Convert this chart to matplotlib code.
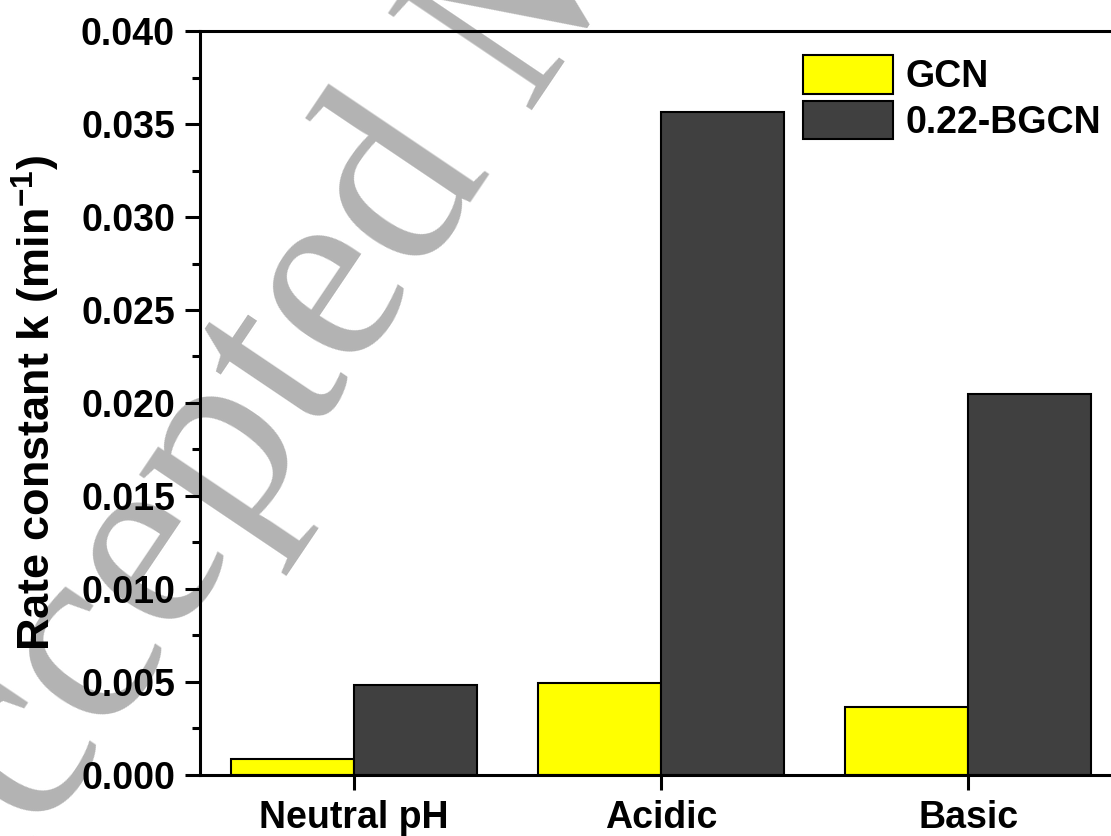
import numpy as np
import matplotlib
matplotlib.use("Agg")
import matplotlib.pyplot as plt
from matplotlib.ticker import MultipleLocator, FormatStrFormatter

# rate constants k (min^-1) under each pH condition
conditions = ["Neutral pH", "Acidic", "Basic"]
k_gcn = [0.00085, 0.00494, 0.00365]
k_bgcn = [0.00485, 0.03565, 0.02048]
series_names = ["GCN", "0.22-BGCN"]

plt.rcParams['font.family'] = 'Liberation Sans'
plt.rcParams['font.weight'] = 'bold'
plt.rcParams['mathtext.fontset'] = 'custom'
plt.rcParams['mathtext.bf'] = 'Liberation Sans:bold'
plt.rcParams['mathtext.rm'] = 'Liberation Sans:bold'
plt.rcParams['mathtext.default'] = 'bf'

fig = plt.figure(figsize=(11.11, 8.36), dpi=100)
ax = fig.add_axes([0.180, 0.0730, 0.8297, 0.8899])
ax.set_facecolor('none')

x = np.arange(len(conditions))
w = 0.4
ax.bar(x - w/2, k_gcn, w, color='#ffff00', edgecolor='black', linewidth=1.5, label=series_names[0])
ax.bar(x + w/2, k_bgcn, w, color='#404040', edgecolor='black', linewidth=1.5, label=series_names[1])

ax.set_xlim(-0.5, 2.5)
ax.set_ylim(0, 0.04)
ax.set_xticks(x)
ax.set_xticklabels(conditions)
ax.yaxis.set_major_locator(MultipleLocator(0.005))
ax.yaxis.set_minor_locator(MultipleLocator(0.0025))
ax.yaxis.set_major_formatter(FormatStrFormatter('%.3f'))

for s in ax.spines.values():
    s.set_linewidth(2.2)
ax.spines['right'].set_visible(False)

ax.tick_params(axis='both', which='major', direction='out', length=11, width=2.2,
               labelsize=27, pad=7)
ax.tick_params(axis='y', which='minor', direction='out', length=6, width=2.2)
ax.tick_params(axis='x', which='minor', bottom=False)

ax.set_ylabel(r"Rate constant k (min$^{-1}$)", fontsize=32.5, fontweight='bold')
ax.yaxis.set_label_coords(-0.150, 0.5)

ax.legend(loc='upper left', bbox_to_anchor=(0.7228, 0.934), bbox_transform=fig.transFigure,
          frameon=False, fontsize=27, borderpad=0, borderaxespad=0,
          handlelength=2.4, handleheight=1.2, handletextpad=0.33, labelspacing=0.15)

# diagonal journal stamp behind the plot
fig.text(-0.059, -0.191, "Accepted Manuscript", rotation=56, rotation_mode='anchor',
         ha='left', va='baseline', fontsize=190, family='Liberation Serif',
         fontweight='normal', color='#b3b3b3', zorder=-1)

fig.savefig("out.png", dpi=100)
